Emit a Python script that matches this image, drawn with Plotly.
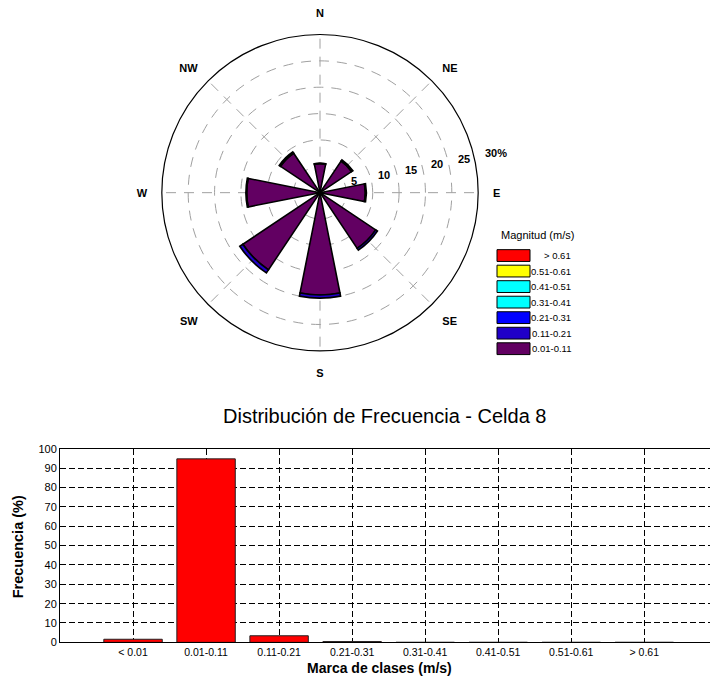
import math
import plotly.graph_objects as go

# ---- Wind rose data (percent of records per direction and speed class) ----
directions = ["N", "NE", "E", "SE", "S", "SW", "W", "NW"]
dir_angles = [0, 45, 90, 135, 180, 225, 270, 315]

speed_classes = ["0.01-0.11", "0.11-0.21", "0.21-0.31", "0.31-0.41",
                 "0.41-0.51", "0.51-0.61", "> 0.61"]
class_colors = ["#620062", "#2000C8", "#0000FF", "#00FFFF",
                "#00FFFF", "#FFFF00", "#FF0000"]

freq_001_011 = [5.5, 7.2, 8.6, 12.7, 19.4, 17.6, 13.9, 9.0]
freq_011_021 = [0.1, 0.3, 0.2, 0.4, 0.6, 0.7, 0.15, 0.3]
freq_021_031 = [0, 0, 0, 0, 0, 0, 0, 0]
freq_031_041 = [0, 0, 0, 0, 0, 0, 0, 0]
freq_041_051 = [0, 0, 0, 0, 0, 0, 0, 0]
freq_051_061 = [0, 0, 0, 0, 0, 0, 0, 0]
freq_gt_061 = [0, 0, 0, 0, 0, 0, 0, 0]
rose_freqs = [freq_001_011, freq_011_021, freq_021_031, freq_031_041,
              freq_041_051, freq_051_061, freq_gt_061]

radial_max = 30
radial_ticks = [5, 10, 15, 20, 25, 30]
radial_ticktext = ["5", "10", "15", "20", "25", "30%"]

# ---- Frequency distribution data ----
bar_classes = ["< 0.01", "0.01-0.11", "0.11-0.21", "0.21-0.31",
               "0.31-0.41", "0.41-0.51", "0.51-0.61", "> 0.61"]
bar_freq = [1.6, 94.8, 3.4, 0.4, 0, 0, 0, 0]

W, H = 710, 685
FONT = "Liberation Sans, Arial, sans-serif"


def px_x(x):
    return x / W


def px_y(y):
    return (H - y) / H


fig = go.Figure()

for name, color, values in zip(speed_classes, class_colors, rose_freqs):
    fig.add_trace(go.Barpolar(
        r=values, theta=dir_angles, width=[22.5] * len(values),
        name=name, marker=dict(color=color, line=dict(color="black", width=1.6)),
        showlegend=False, subplot="polar",
    ))

fig.add_trace(go.Bar(
    x=bar_classes, y=bar_freq, width=0.8,
    marker=dict(color="#FF0000", line=dict(color="#222222", width=1)),
    showlegend=False, xaxis="x", yaxis="y",
))

# Rose center and outer radius in pixels
cx, cy, R = 320, 190, 161

fig.update_layout(
    width=W, height=H,
    margin=dict(l=0, r=0, t=0, b=0),
    paper_bgcolor="white", plot_bgcolor="white",
    font=dict(family=FONT, color="black"),
    polar=dict(
        domain=dict(x=[px_x(cx - R), px_x(cx + R)], y=[px_y(cy + R), px_y(cy - R)]),
        bgcolor="white",
        barmode="stack",
        radialaxis=dict(
            range=[0, radial_max], tickmode="array", tickvals=radial_ticks,
            showticklabels=False, showline=False, ticks="",
            gridcolor="#A0A0A0", griddash="10px,8px", gridwidth=1,
        ),
        angularaxis=dict(
            direction="clockwise", rotation=90,
            tickmode="array", tickvals=dir_angles, ticktext=directions,
            showline=True, linecolor="black", linewidth=1.2,
            ticks="outside", ticklen=12, tickcolor="rgba(0,0,0,0)",
            tickfont=dict(size=11, weight="bold", family=FONT),
            gridcolor="#A0A0A0", griddash="10px,8px", gridwidth=1,
        ),
    ),
    xaxis=dict(
        domain=[px_x(60), 1], range=[-1, 7.9], type="category",
        showline=True, linecolor="black", linewidth=1, mirror=True,
        showgrid=True, gridcolor="black", griddash="6px,3px", gridwidth=1,
        ticks="", tickfont=dict(size=10.5, family=FONT), zeroline=False,
    ),
    yaxis=dict(
        domain=[px_y(647.7), px_y(450.7)], range=[0, 100],
        tickmode="linear", tick0=0, dtick=10,
        showline=True, linecolor="black", linewidth=1,
        showgrid=True, gridcolor="black", griddash="6px,3px", gridwidth=1,
        ticks="", tickfont=dict(size=11, family=FONT), zeroline=False,
    ),
)

annotations = [
    dict(text="Distribución de Frecuencia - Celda 8", x=px_x(385), y=px_y(417),
         xref="paper", yref="paper", showarrow=False, xanchor="center", yanchor="middle",
         font=dict(size=20, family=FONT)),
    dict(text="Marca de clases (m/s)", x=px_x(380), y=px_y(674),
         xref="paper", yref="paper", showarrow=False, xanchor="center", yanchor="middle",
         font=dict(size=14, family=FONT, weight="bold")),
    dict(text="Frecuencia (%)", x=px_x(18), y=px_y(551), textangle=-90,
         xref="paper", yref="paper", showarrow=False, xanchor="center", yanchor="middle",
         font=dict(size=14.5, family=FONT, weight="bold")),
    dict(text="Magnitud (m/s)", x=px_x(537), y=px_y(233),
         xref="paper", yref="paper", showarrow=False, xanchor="center", yanchor="middle",
         font=dict(size=11, family=FONT)),
]

# Radial scale labels, laid along a ray slightly above East
px_per_unit = R / radial_max
label_tilt = math.tan(math.radians(11.8))
for val, txt in zip(radial_ticks, radial_ticktext):
    dist = val * px_per_unit
    annotations.append(dict(
        text=txt, x=px_x(cx + 2 + dist), y=px_y(cy - 6.4 - dist * label_tilt),
        xref="paper", yref="paper", showarrow=False,
        xanchor="left", yanchor="middle",
        font=dict(size=11, family=FONT, weight="bold")))

# Legend for the speed classes (highest class on top)
shapes = []
row0, row_step = 248, 15.8
for i, (name, color) in enumerate(zip(speed_classes[::-1], class_colors[::-1])):
    top = row0 + i * row_step
    shapes.append(dict(type="rect", xref="paper", yref="paper",
                       x0=px_x(497), x1=px_x(530), y0=px_y(top + 12), y1=px_y(top),
                       fillcolor=color, line=dict(color="black", width=1)))
    annotations.append(dict(text=name, x=px_x(573), y=px_y(top + 6),
                            xref="paper", yref="paper", showarrow=False,
                            xanchor="right", yanchor="middle",
                            font=dict(size=9.5, family=FONT)))

fig.update_layout(annotations=annotations, shapes=shapes)

fig.write_html("out.html")
